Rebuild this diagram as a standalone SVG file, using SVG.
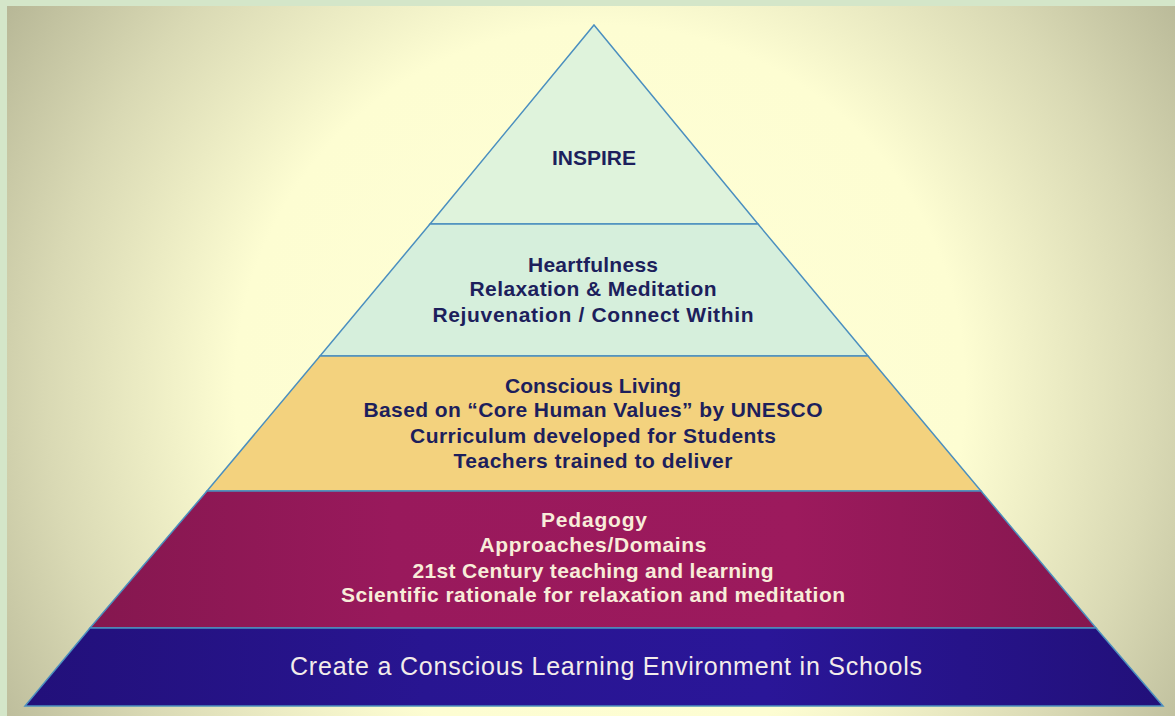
<svg xmlns="http://www.w3.org/2000/svg" width="1175" height="716" viewBox="0 0 1175 716">
  <defs>
    <radialGradient id="bg" gradientUnits="userSpaceOnUse" cx="600" cy="390" r="730">
      <stop offset="0" stop-color="#ffffd6"/>
      <stop offset="0.5" stop-color="#fdfdd2"/>
      <stop offset="0.76" stop-color="#d9d9b4"/>
      <stop offset="1" stop-color="#b2b292"/>
    </radialGradient>
    <linearGradient id="magenta" x1="0" y1="0" x2="1" y2="0">
      <stop offset="0" stop-color="#85174f"/>
      <stop offset="0.3" stop-color="#99195c"/>
      <stop offset="0.7" stop-color="#9c1a5d"/>
      <stop offset="1" stop-color="#85174f"/>
    </linearGradient>
    <linearGradient id="indigo" x1="0" y1="0" x2="1" y2="0">
      <stop offset="0" stop-color="#22107a"/>
      <stop offset="0.35" stop-color="#281591"/>
      <stop offset="0.65" stop-color="#2a1698"/>
      <stop offset="1" stop-color="#22107a"/>
    </linearGradient>
    <style>
      .band { stroke: #4b8fbf; stroke-width: 1.5; stroke-linejoin: miter; }
      .t { font-family: "Liberation Sans", Arial, sans-serif; font-weight: 700; font-size: 21px; text-anchor: middle; }
      .dark { fill: #1d1f5c; }
      .light { fill: #f8ecd9; }
      .base { font-family: "Liberation Sans", Arial, sans-serif; font-weight: 400; font-size: 25px; text-anchor: middle; fill: #f3ecea; }
    </style>
  </defs>

  <!-- frame and backdrop -->
  <rect x="0" y="0" width="1175" height="716" fill="#d4e6c9"/>
  <rect x="7" y="6" width="1168" height="710" fill="url(#bg)"/>

  <!-- pyramid tiers, top to bottom -->
  <g id="tier-inspire">
    <polygon class="band" points="594,25 758,224 430,224" fill="#dff3dc"/>
    <text class="t dark" x="594" y="165" textLength="84">INSPIRE</text>
  </g>

  <g id="tier-heartfulness">
    <polygon class="band" points="430,224 758,224 868,356 320,356" fill="#d6efdc"/>
    <text class="t dark" x="593" y="272" textLength="130">Heartfulness</text>
    <text class="t dark" x="593" y="296" textLength="247">Relaxation &amp; Meditation</text>
    <text class="t dark" x="593" y="322" textLength="321">Rejuvenation / Connect Within</text>
  </g>

  <g id="tier-conscious-living">
    <polygon class="band" points="320,356 868,356 981,491 207,491" fill="#f3d27e"/>
    <text class="t dark" x="593" y="393" textLength="176">Conscious Living</text>
    <text class="t dark" x="593" y="417" textLength="459">Based on “Core Human Values” by UNESCO</text>
    <text class="t dark" x="593" y="443" textLength="366">Curriculum developed for Students</text>
    <text class="t dark" x="593" y="468" textLength="279">Teachers trained to deliver</text>
  </g>

  <g id="tier-pedagogy">
    <polygon class="band" points="207,491 981,491 1096,628 90,628" fill="url(#magenta)"/>
    <text class="t light" x="594" y="527" textLength="106">Pedagogy</text>
    <text class="t light" x="593" y="552" textLength="227">Approaches/Domains</text>
    <text class="t light" x="593" y="578" textLength="361">21st Century teaching and learning</text>
    <text class="t light" x="593" y="602" textLength="504">Scientific rationale for relaxation and meditation</text>
  </g>

  <g id="tier-environment">
    <polygon class="band" points="90,628 1096,628 1163,706 25,706" fill="url(#indigo)"/>
    <text class="base" x="606" y="675" textLength="632">Create a Conscious Learning Environment in Schools</text>
  </g>
</svg>
